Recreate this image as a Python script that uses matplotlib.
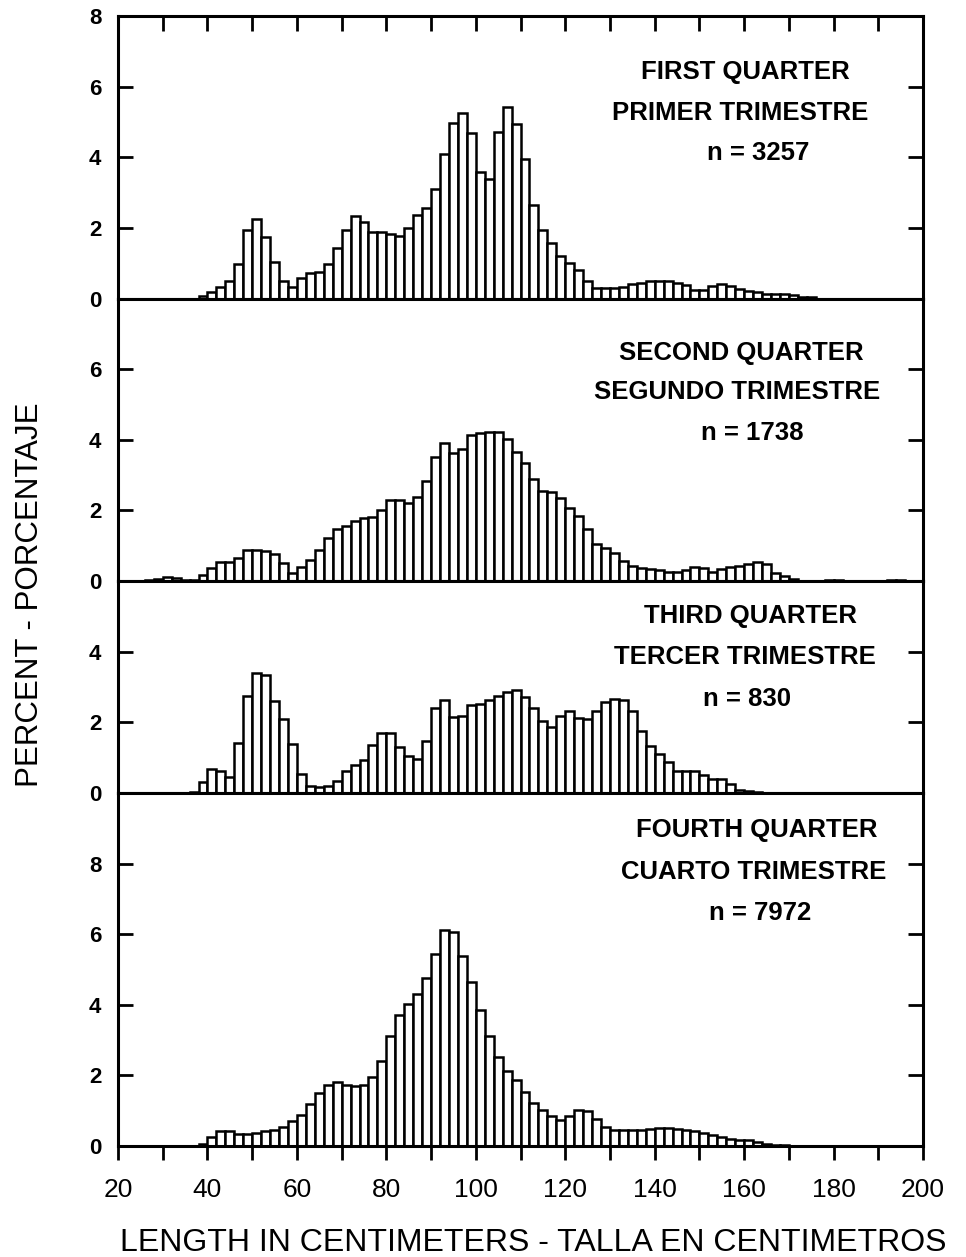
import numpy as np
import matplotlib
matplotlib.use("Agg")
import matplotlib.pyplot as plt
from matplotlib.ticker import MultipleLocator

plt.rcParams['font.family'] = ['Liberation Sans', 'DejaVu Sans']

# percent per 2-cm length class; each list starts at the given length (cm)
q1_start = 38
q1_pct = [0.07, 0.19, 0.33, 0.49, 0.99, 1.93, 2.24, 1.75, 1.04, 0.49,
          0.33, 0.57, 0.71, 0.74, 0.97, 1.42, 1.93, 2.33, 2.17, 1.89,
          1.89, 1.82, 1.76, 2.00, 2.36, 2.57, 3.09, 4.10, 4.97, 5.24,
          4.70, 3.57, 3.37, 4.72, 5.42, 4.95, 3.96, 2.64, 1.95, 1.58,
          1.20, 1.01, 0.80, 0.49, 0.30, 0.30, 0.30, 0.33, 0.40, 0.45,
          0.49, 0.49, 0.49, 0.45, 0.38, 0.25, 0.25, 0.36, 0.41, 0.36,
          0.26, 0.22, 0.17, 0.12, 0.12, 0.12, 0.09, 0.05, 0.03]

q2_start = 26
q2_pct = [0.03, 0.06, 0.10, 0.08, 0.03, 0.02, 0.16, 0.38, 0.55, 0.55,
          0.66, 0.88, 0.88, 0.85, 0.77, 0.51, 0.24, 0.40, 0.59, 0.88,
          1.23, 1.46, 1.56, 1.70, 1.79, 1.82, 2.01, 2.29, 2.29, 2.22,
          2.39, 2.83, 3.51, 3.90, 3.63, 3.73, 4.13, 4.20, 4.22, 4.22,
          4.01, 3.66, 3.33, 2.88, 2.55, 2.52, 2.36, 2.08, 1.84, 1.48,
          1.04, 0.94, 0.80, 0.57, 0.42, 0.36, 0.33, 0.30, 0.26, 0.26,
          0.30, 0.40, 0.36, 0.26, 0.33, 0.40, 0.42, 0.47, 0.54, 0.47,
          0.24, 0.14, 0.05, 0.0, 0.0, 0.0, 0.04, 0.04, 0.0, 0.0,
          0.0, 0.0, 0.0, 0.04, 0.04]

q3_start = 36
q3_pct = [0.03, 0.31, 0.69, 0.63, 0.44, 1.42, 2.74, 3.40, 3.33, 2.60,
          2.08, 1.37, 0.54, 0.19, 0.16, 0.19, 0.33, 0.61, 0.80, 0.94,
          1.35, 1.70, 1.70, 1.30, 1.04, 0.96, 1.46, 2.41, 2.62, 2.15,
          2.17, 2.50, 2.52, 2.62, 2.74, 2.85, 2.90, 2.72, 2.41, 2.03,
          1.86, 2.19, 2.33, 2.12, 2.09, 2.31, 2.57, 2.66, 2.63, 2.33,
          1.76, 1.34, 1.10, 0.87, 0.63, 0.63, 0.63, 0.51, 0.38, 0.38,
          0.24, 0.07, 0.05, 0.02]

q4_start = 38
q4_pct = [0.05, 0.25, 0.43, 0.43, 0.33, 0.33, 0.36, 0.43, 0.46, 0.55,
          0.72, 0.87, 1.18, 1.51, 1.72, 1.80, 1.73, 1.70, 1.72, 1.94,
          2.42, 3.12, 3.71, 4.02, 4.31, 4.77, 5.45, 6.12, 6.06, 5.37,
          4.65, 3.84, 3.11, 2.52, 2.12, 1.86, 1.52, 1.21, 1.02, 0.86,
          0.74, 0.86, 1.02, 0.98, 0.76, 0.53, 0.45, 0.45, 0.45, 0.45,
          0.48, 0.50, 0.50, 0.48, 0.45, 0.43, 0.38, 0.32, 0.26, 0.21,
          0.16, 0.16, 0.10, 0.05, 0.03, 0.02]

titles_en = ["FIRST QUARTER", "SECOND QUARTER", "THIRD QUARTER", "FOURTH QUARTER"]
titles_es = ["PRIMER TRIMESTRE", "SEGUNDO TRIMESTRE", "TERCER TRIMESTRE", "CUARTO TRIMESTRE"]
n_obs = [3257, 1738, 830, 7972]
y_max = [8, 8, 6, 10]
y_ticks = [[0, 2, 4, 6, 8], [0, 2, 4, 6], [0, 2, 4], [0, 2, 4, 6, 8]]

starts = [q1_start, q2_start, q3_start, q4_start]
series = [q1_pct, q2_pct, q3_pct, q4_pct]

W, H = 966, 1257
fig = plt.figure(figsize=(W / 100, H / 100), dpi=100)
gs = fig.add_gridspec(4, 1, height_ratios=y_max, hspace=0,
                      left=118 / W, right=923 / W, top=1 - 16 / H, bottom=1 - 1146 / H)

# text block positions in pixels (x centre, y centre of each line)
txt_pos = [[(745, 72), (740, 113), (758, 153)],
           [(741, 353), (737, 392), (752, 433)],
           [(750, 616), (745, 657), (747, 699)],
           [(757, 830), (754, 872), (760, 913)]]

axes = []
for i in range(4):
    ax = fig.add_subplot(gs[i], sharex=axes[0] if axes else None)
    axes.append(ax)
    vals = series[i]
    edges = starts[i] + 2 * np.arange(len(vals))
    ax.bar(edges, vals, width=2, align='edge', facecolor='white',
           edgecolor='black', linewidth=1.8)
    ax.set_xlim(20, 200)
    ax.set_ylim(0, y_max[i])
    ax.set_yticks(y_ticks[i])
    ax.tick_params(axis='y', direction='in', left=True, right=True,
                   length=11, width=2, labelsize=16, pad=12)
    for lab in ax.get_yticklabels():
        lab.set_fontweight('bold')
    for sp in ax.spines.values():
        sp.set_linewidth(2.2)

    lines = [titles_en[i], titles_es[i], "n = %d" % n_obs[i]]
    for (px, py), s in zip(txt_pos[i], lines):
        fig.text(px / W, 1 - py / H, s, ha='center', va='center',
                 fontsize=18.5, fontweight='bold')

axes[0].xaxis.set_major_locator(MultipleLocator(20))
axes[0].xaxis.set_minor_locator(MultipleLocator(10))
for i, ax in enumerate(axes):
    if i == 0:
        ax.tick_params(axis='x', which='both', bottom=False, top=True,
                       labelbottom=False, direction='in', length=11, width=2)
    elif i == 3:
        ax.tick_params(axis='x', which='both', bottom=True, top=False,
                       labelbottom=True, direction='out', length=10, width=2,
                       labelsize=19, pad=13)
    else:
        ax.tick_params(axis='x', which='both', bottom=False, top=False,
                       labelbottom=False)

fig.text(30 / W, 1 - 595 / H, "PERCENT - PORCENTAJE", rotation=90,
         ha='center', va='center', fontsize=22.5)
fig.text(533 / W, 1 - 1243 / H, "LENGTH IN CENTIMETERS - TALLA EN CENTIMETROS",
         ha='center', va='center', fontsize=23)

fig.savefig("out.png", dpi=100)
